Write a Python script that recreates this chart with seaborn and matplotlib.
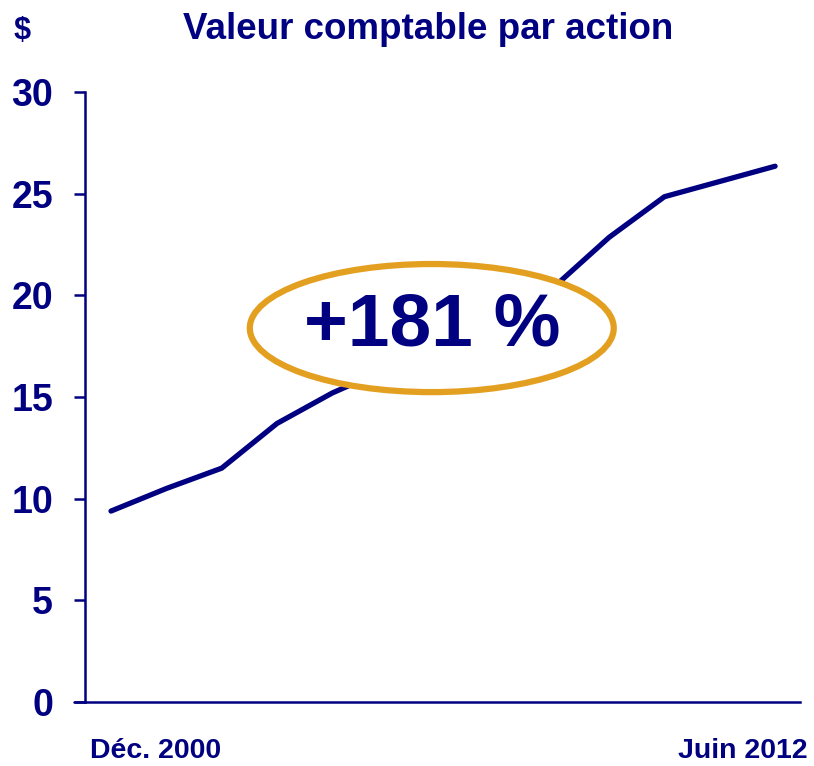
import matplotlib
matplotlib.use("Agg")
import matplotlib.pyplot as plt
from matplotlib.patches import Ellipse
import seaborn as sns
import pandas as pd

sns.set_theme(style="white")
plt.rcParams['font.family'] = ['Liberation Sans', 'DejaVu Sans']

NAVY = "#000080"
GOLD = "#E3A020"

# Data (book value per share, Dec 2000 -> Jun 2012)
point_index = list(range(13))
book_value = [9.39, 10.5, 11.5, 13.7, 15.2, 16.4, 17.5, 18.8, 20.4, 22.85, 24.85, 25.6, 26.35]
start_label = "Déc. 2000"
end_label = "Juin 2012"
title = "Valeur comptable par action"
unit = "$"
growth_label = "+181 %"
y_ticks = [0, 5, 10, 15, 20, 25, 30]

df = pd.DataFrame({"idx": point_index, "value": book_value})

fig = plt.figure(figsize=(8.14, 7.66), dpi=100)
ax = fig.add_axes([85/814, 64/766, 715/814, 610/766])

sns.lineplot(data=df, x="idx", y="value", ax=ax, color=NAVY, linewidth=3.8,
             solid_capstyle="round", solid_joinstyle="round")

ax.set_xlim(-0.47, 12.45)
ax.set_ylim(0, 30)
ax.set_yticks(y_ticks)
ax.set_xticks([])
ax.set_xlabel("")
ax.set_ylabel("")
for s in ["top", "right"]:
    ax.spines[s].set_visible(False)
for s in ["left", "bottom"]:
    ax.spines[s].set_color(NAVY)
    ax.spines[s].set_linewidth(1.8)
ax.tick_params(axis="y", direction="out", length=8, width=1.8, color=NAVY,
               pad=15, labelsize=27, labelcolor=NAVY, left=True)
for lab in ax.get_yticklabels():
    lab.set_fontweight("bold")

# extend bottom spine slightly left like the original
ax.plot([-0.67, -0.47], [0, 0], color=NAVY, lw=1.8, clip_on=False)

# Ellipse annotation
ell = Ellipse((0.485, 0.613), 0.509, 0.21, transform=ax.transAxes,
              facecolor="white", edgecolor=GOLD, linewidth=4.5, zorder=5)
ax.add_patch(ell)
ax.text(0.485, 0.616, growth_label, transform=ax.transAxes, ha="center", va="center",
        fontsize=54, fontweight="bold", color=NAVY, zorder=6)

fig.text(428/814, 1 - 39/766, title, ha="center", va="baseline",
         fontsize=26.5, fontweight="bold", color=NAVY)
fig.text(22/814, 1 - 31/766, unit, ha="center", va="center",
         fontsize=22, fontweight="bold", color=NAVY)
fig.text(156/814, 1 - 751/766, start_label, ha="center", va="center",
         fontsize=20.5, fontweight="bold", color=NAVY)
fig.text(743/814, 1 - 751/766, end_label, ha="center", va="center",
         fontsize=20.5, fontweight="bold", color=NAVY)

fig.savefig("out.png", dpi=100)
